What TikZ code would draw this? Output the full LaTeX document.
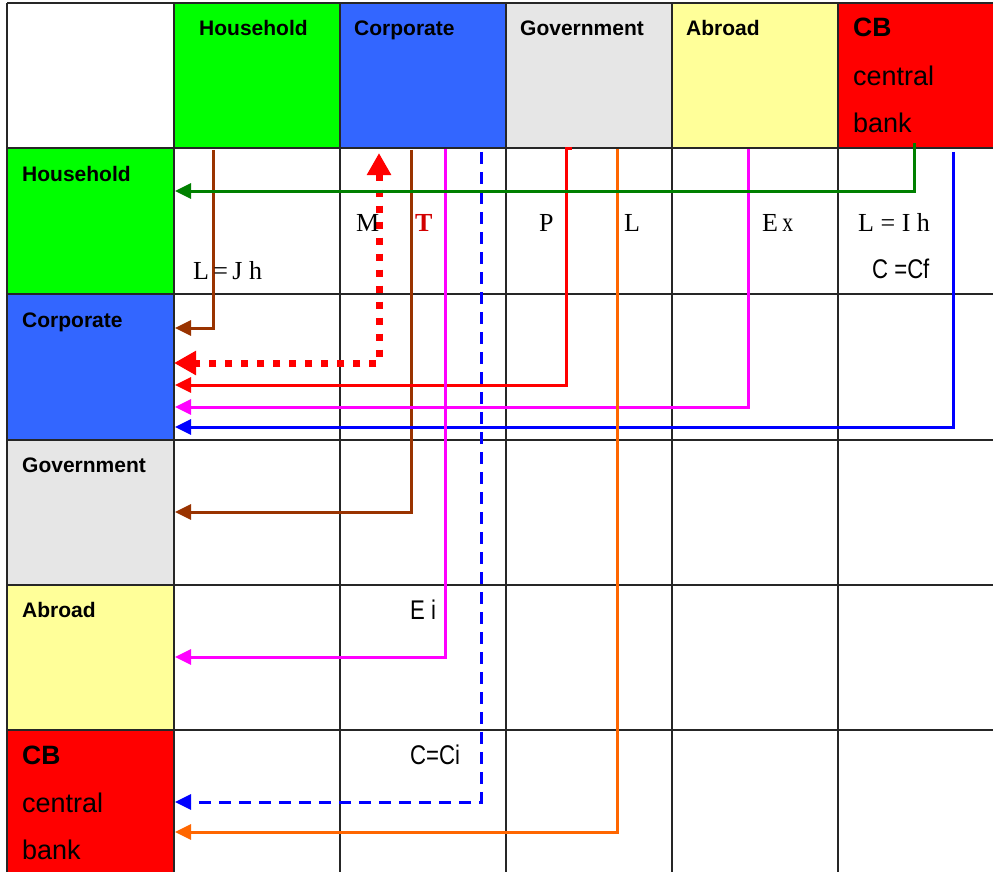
\documentclass[tikz,border=0pt]{standalone}
\usepackage{fontspec}
\usepackage{graphicx}
\setmainfont{Liberation Sans}
\newfontfamily\serifx{Liberation Serif}
\usetikzlibrary{arrows.meta}
\definecolor{cgreen}{RGB}{0,255,0}
\definecolor{cblue}{RGB}{51,102,255}
\definecolor{cgray}{RGB}{230,230,230}
\definecolor{cyellow}{RGB}{255,255,153}
\definecolor{cred}{RGB}{255,0,0}
\definecolor{lgreen}{RGB}{0,128,0}
\definecolor{lbrown}{RGB}{153,51,0}
\definecolor{lred}{RGB}{255,0,0}
\definecolor{tred}{RGB}{210,0,0}
\definecolor{lmag}{RGB}{255,0,255}
\definecolor{lblue}{RGB}{0,0,255}
\definecolor{lorange}{RGB}{255,102,0}
\tikzset{
  gridline/.style={draw=black!85, line width=1.4pt},
  conn/.style={line width=3pt, -{Triangle[length=16pt,width=15pt]}},
  bigconn/.style={line width=7pt, dash pattern=on 7pt off 9pt,
     {Triangle[length=22pt,width=23pt]}-{Triangle[length=22pt,width=23pt]}},
  dashconn/.style={line width=3pt, dash pattern=on 12pt off 8pt, -{Triangle[length=16pt,width=15pt]}},
  hdr/.style={font=\fontsize{21}{25}\selectfont\bfseries, anchor=base west, inner sep=0pt},
  cbb/.style={font=\fontsize{26.5}{30}\selectfont\bfseries, anchor=base west, inner sep=0pt},
  cbt/.style={font=\fontsize{27}{30}\selectfont, anchor=base west, inner sep=0pt},
  lab/.style={font=\serifx\fontsize{26}{30}\selectfont, anchor=base west, inner sep=0pt},
  nar/.style={font=\fontsize{27}{30}\selectfont, anchor=base west, inner sep=0pt}
}
\begin{document}
\begin{tikzpicture}[x=1pt,y=-1pt]
\useasboundingbox (0,0) rectangle (993,872);
\fill[white] (0,0) rectangle (993,872);
% header fills
\fill[cgreen]  (174,3) rectangle (340,148);
\fill[cblue]   (340,3) rectangle (506,148);
\fill[cgray]   (506,3) rectangle (672,148);
\fill[cyellow] (672,3) rectangle (838,148);
\fill[cred]    (838,3) rectangle (993,148);
% left column fills
\fill[cgreen]  (7,148) rectangle (174,294);
\fill[cblue]   (7,294) rectangle (174,440);
\fill[cgray]   (7,440) rectangle (174,585);
\fill[cyellow] (7,585) rectangle (174,730);
\fill[cred]    (7,730) rectangle (174,872);
% grid
\foreach \gx in {7,174,340,506,672,838} \draw[gridline] (\gx,3) -- (\gx,872);
\foreach \gy in {3,148,294,440,585,730} \draw[gridline] (7,\gy) -- (993,\gy);
% header texts
\node[hdr] (hHH) at (199,36) {Household};
\node[hdr] (hCO) at (354,36) {Corporate};
\node[hdr] (hGO) at (520,36) {Government};
\node[hdr] (hAB) at (686,36) {Abroad};
\node[cbb] (hCB) at (853,37) {CB};
\node[cbt] (hCBc) at (853,86) {central};
\node[cbt] (hCBb) at (853,133) {bank};
% row texts
\node[hdr] (rHH) at (22,181) {Household};
\node[hdr] (rCO) at (22,327) {Corporate};
\node[hdr] (rGO) at (22,472) {Government};
\node[hdr] (rAB) at (22,617) {Abroad};
\node[cbb] (rCB) at (22,764) {CB};
\node[cbt] (rCBc) at (22,812) {central};
\node[cbt] (rCBb) at (22,859) {bank};
% connector coordinates
\coordinate (gS) at (914,143);   \coordinate (gE) at (175,191);
\coordinate (b1S) at (213,150);  \coordinate (b1E) at (175,328);
\coordinate (b2S) at (411,150);  \coordinate (b2E) at (175,512);
\coordinate (rH) at (572,149);   \coordinate (rS) at (566,149);  \coordinate (rE) at (175,385);
\coordinate (oS) at (617,149);   \coordinate (oE) at (175,832);
\coordinate (m1S) at (748,149);  \coordinate (m1E) at (175,407);
\coordinate (blS) at (953,152);  \coordinate (blE) at (175,427);
\coordinate (m2S) at (445,149);  \coordinate (m2E) at (175,657);
\coordinate (dS) at (481,152);   \coordinate (dE) at (175,802);
\coordinate (tTop) at (379,153); \coordinate (tLeft) at (174,363);
% connectors
\draw[conn, lbrown] (b1S) |- (b1E);
\draw[conn, lbrown] (b2S) |- (b2E);
\draw[conn, lred] (rH) -- (rS) |- (rE);
\draw[conn, lmag] (m1S) |- (m1E);
\draw[conn, lblue] (blS) |- (blE);
\draw[conn, lmag] (m2S) |- (m2E);
\draw[dashconn, lblue] (dS) |- (dE);
\draw[conn, lorange] (oS) |- (oE);
\draw[bigconn, lred] (tTop) |- (tLeft);
\draw[conn, lgreen] (gS) |- (gE);
% labels
\node[lab] (lM) at (356,231) {M};
\node[lab, text=tred, font=\serifx\fontsize{26}{30}\selectfont\bfseries] (lT) at (415,231) {T};
\node[lab] (lLJ) at (193,279) {L\,=\,J h};
\node[lab] (lP) at (539,231) {P};
\node[lab] (lL) at (624,231) {L};
\node[lab] (lEx) at (762,231) {E\,{\fontsize{27}{30}\selectfont\scalebox{0.8}[1]{x}}};
\node[lab] (lLI) at (858,231) {L = I h};
\node[nar] (lCf) at (872,278) {\scalebox{0.82}[1]{C =Cf}};
\node[nar] (lEi) at (410,619) {\scalebox{0.82}[1]{E i}};
\node[nar] (lCi) at (410,764) {\scalebox{0.82}[1]{C=Ci}};
\end{tikzpicture}
\end{document}
